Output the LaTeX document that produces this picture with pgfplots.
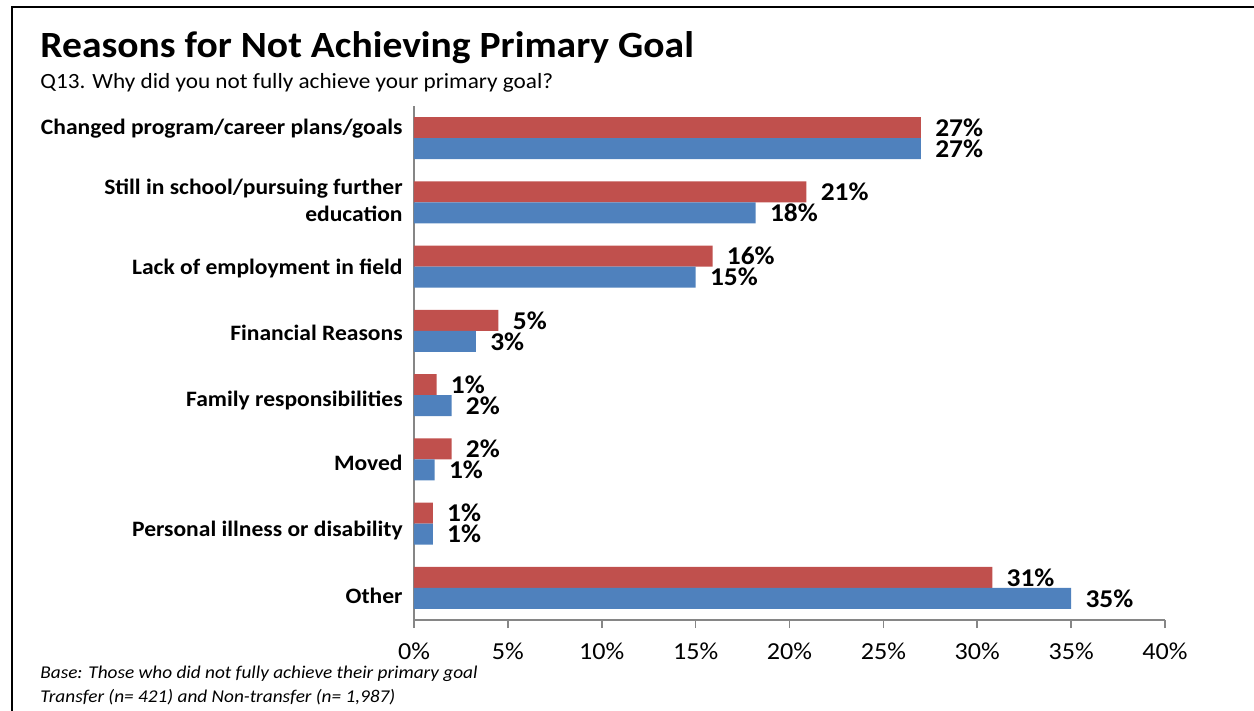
\documentclass[border=0pt]{standalone}
\usepackage{fontspec}
\setmainfont{Carlito}[FakeStretch=1.07]
\usepackage{pgfplots}
\pgfplotsset{compat=1.18}
\definecolor{redbar}{HTML}{C0504D}
\definecolor{bluebar}{HTML}{4F81BD}
\definecolor{axisgray}{HTML}{868686}

\begin{document}
\begin{tikzpicture}
\useasboundingbox (0,0) rectangle (627pt,-355.5pt);
% frame
\draw[line width=1.2pt] (6pt,-355.5pt) -- (6pt,-3.5pt) -- (627pt,-3.5pt);
% titles
\node[anchor=base west, inner sep=0pt, font=\fontsize{18.5}{22}\selectfont\bfseries] at (20pt,-28.7pt) {Reasons for Not Achieving Primary Goal};
\node[anchor=base west, inner sep=0pt, font=\fontsize{10.85}{13}\selectfont] at (20pt,-44.2pt) {Q13. Why did you not fully achieve your primary goal?};
% footnote
\node[anchor=base west, inner sep=0pt, font=\fontsize{9}{10}\selectfont\itshape] at (20pt,-339pt) {Base: Those who did not fully achieve their primary goal};
\node[anchor=base west, inner sep=0pt, font=\fontsize{9}{10}\selectfont\itshape] at (20pt,-351pt) {Transfer (n= 421) and Non-transfer (n= 1,987)};

\begin{axis}[
    at={(207pt,-310pt)}, anchor=south west,
    width=375.5pt, height=257pt, scale only axis,
    xbar, bar width=10.5pt,
    xmin=0, xmax=40, ymin=-0.5, ymax=7.5,
    xtick={0,5,...,40},
    xticklabel={\pgfmathprintnumber{\tick}\%},
    % category labels sit slightly off the bar centres, as in the original
    ytick={-0.12,0.9,1.94,2.92,3.97,4.97,6.03,7.14},
    yticklabels={Other, Personal illness or disability, Moved, Family responsibilities, Financial Reasons, Lack of employment in field, {Still in school/pursuing further\\education}, Changed program/career plans/goals},
    yticklabel style={align=right, font=\fontsize{11}{13.5}\selectfont\bfseries, inner sep=0pt, xshift=-1.5pt},
    xticklabel style={font=\fontsize{12.2}{14}\selectfont, yshift=-4.1pt},
    /pgf/number format/assume math mode=true,
    axis lines*=left,
    axis line style={axisgray, line width=0.8pt},
    ytick style={draw=none},
    xtick style={axisgray, line width=0.8pt},
    tick align=outside, major tick length=4pt,
    nodes near coords, point meta=explicit symbolic,
    nodes near coords style={font=\fontsize{12.8}{14}\selectfont\bfseries, anchor=west, inner sep=0pt, xshift=7pt, black},
    clip=false,
]
% Transfer
\addplot[fill=redbar, draw=none, bar shift=5.25pt] coordinates {
    (27,7) [27\%]
    (20.9,6) [21\%]
    (15.9,5) [16\%]
    (4.5,4) [5\%]
    (1.2,3) [1\%]
    (2.0,2) [2\%]
    (1.0,1) [1\%]
    (30.8,0) [31\%]
};
% Non-transfer
\addplot[fill=bluebar, draw=none, bar shift=-5.25pt] coordinates {
    (27,7) [27\%]
    (18.2,6) [18\%]
    (15.0,5) [15\%]
    (3.3,4) [3\%]
    (2.0,3) [2\%]
    (1.1,2) [1\%]
    (1.0,1) [1\%]
    (35.0,0) [35\%]
};
\end{axis}
\end{tikzpicture}
\end{document}
